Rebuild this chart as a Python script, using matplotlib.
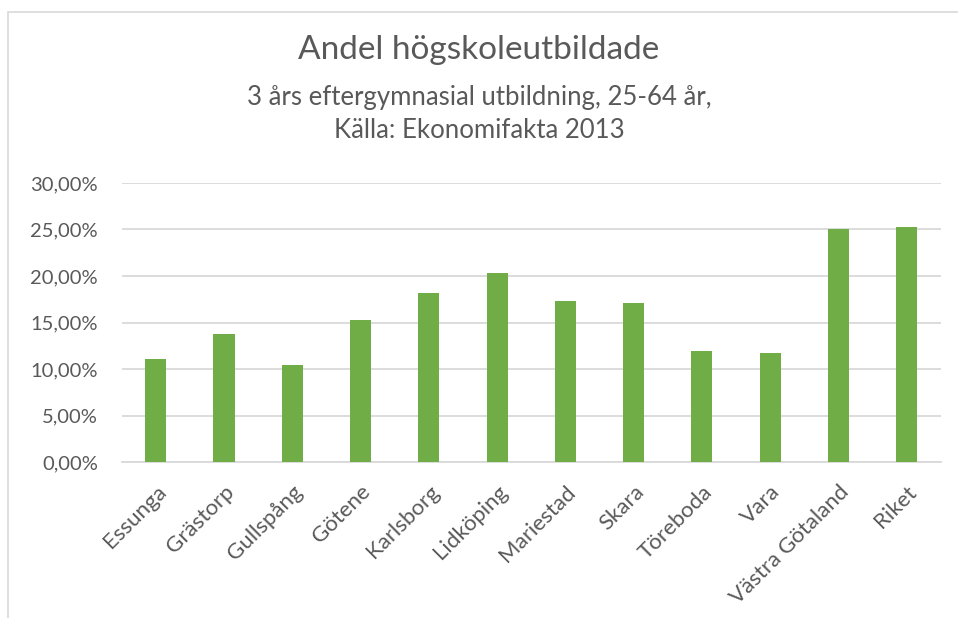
import matplotlib.pyplot as plt
from matplotlib.patches import Rectangle
from matplotlib.ticker import FuncFormatter

kommuner = ['Essunga', 'Grästorp', 'Gullspång', 'Götene', 'Karlsborg', 'Lidköping',
            'Mariestad', 'Skara', 'Töreboda', 'Vara', 'Västra Götaland', 'Riket']
andel = [11.06, 13.80, 10.49, 15.25, 18.18, 20.37, 17.29, 17.08, 11.95, 11.74, 25.09, 25.27]
y_ticks = [0, 5, 10, 15, 20, 25, 30]

plt.rcParams['font.family'] = ['Lato', 'DejaVu Sans']
grå = '#595959'
grön = '#70AD47'
linje = '#D9D9D9'

fig = plt.figure(figsize=(9.58, 6.18), dpi=100)
ax = fig.add_axes([0.127, 0.252, 0.855, 0.452])

# ram runt diagrammet
fig.patches.append(Rectangle((8 / 958, -0.05), 1.1, 1 - 12 / 618 + 0.05,
                             transform=fig.transFigure, fill=False,
                             edgecolor=linje, linewidth=1.2))

x = range(len(kommuner))
ax.bar(x, andel, width=0.31, color=grön, zorder=3)

ax.set_xlim(-0.5, len(kommuner) - 0.5)
ax.set_ylim(0, 30)
ax.set_yticks(y_ticks)
ax.yaxis.set_major_formatter(FuncFormatter(lambda v, p: f'{v:.2f}%'.replace('.', ',')))
ax.grid(axis='y', color=linje, linewidth=1.3, zorder=0)
for s in ['top', 'right', 'left']:
    ax.spines[s].set_visible(False)
ax.spines['bottom'].set_color(linje)
ax.spines['bottom'].set_linewidth(1.3)

ax.set_xticks(list(x))
ax.set_xticklabels(kommuner, rotation=45, ha='right', rotation_mode='anchor',
                   fontsize=16, color=grå)
ax.tick_params(axis='x', length=0, pad=14)
ax.tick_params(axis='y', length=0, pad=17, labelsize=14.5, labelcolor=grå)

fig.text(0.5, 1 - 50 / 618, 'Andel högskoleutbildade', ha='center', va='center',
         fontsize=24, color=grå)
fig.text(0.5, 1 - 98 / 618, '3 års eftergymnasial utbildning, 25-64 år,', ha='center',
         va='center', fontsize=18.5, color=grå)
fig.text(0.5, 1 - 131 / 618, 'Källa: Ekonomifakta 2013', ha='center', va='center',
         fontsize=18.5, color=grå)

fig.savefig('out.png', dpi=100)
